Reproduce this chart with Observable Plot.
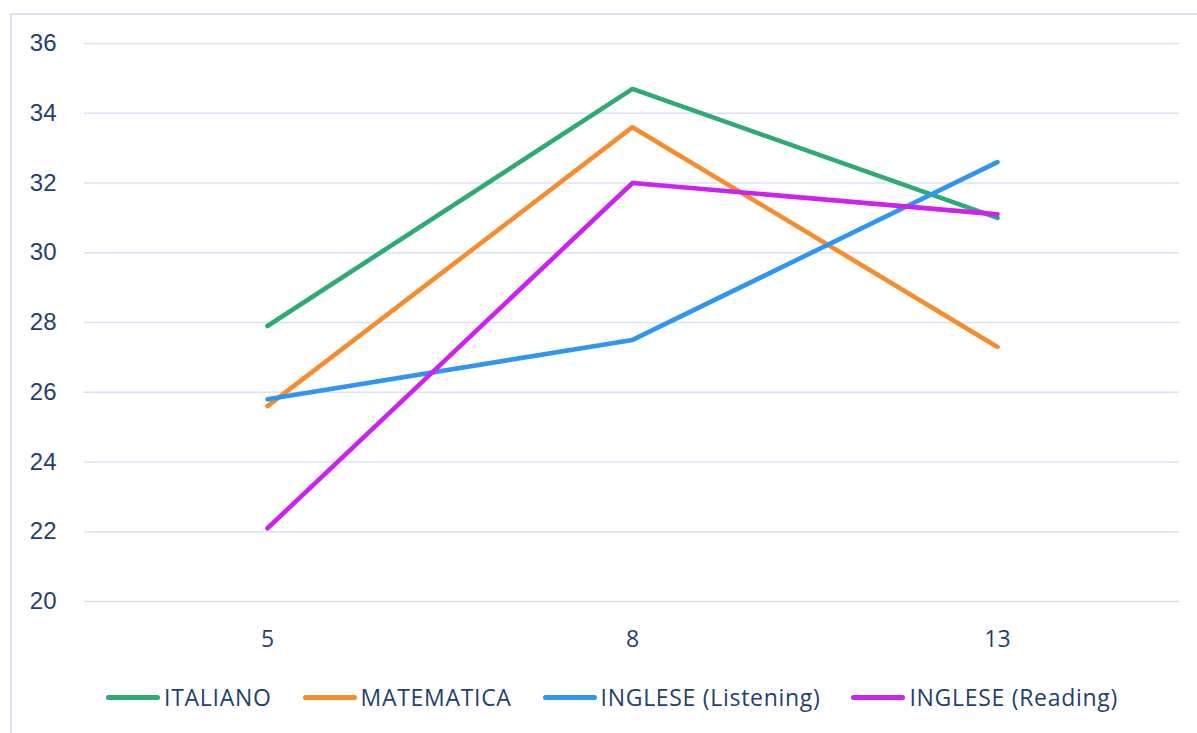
<!DOCTYPE html>
<html>
<head>
<meta charset="utf-8">
<script src="https://cdn.jsdelivr.net/npm/d3@7"></script>
<script src="https://cdn.jsdelivr.net/npm/@observablehq/plot@0.6"></script>
<style>
  html, body { margin: 0; padding: 0; background: #fff; }
  body { width: 1197px; height: 733px; position: relative; overflow: hidden; font-family: "Open Sans", sans-serif; }
  #card { position: absolute; left: 10px; top: 13px; width: 1300px; height: 800px; border: 2px solid #d8e2f4; box-sizing: border-box; }
  #chart { position: absolute; left: 0; top: 0; }
  #legend { position: absolute; left: 0; top: 680px; width: 1224px; display: flex; justify-content: center; gap: 31px; color: #253f6c; font-size: 23px; line-height: 34px; letter-spacing: 0.7px; }
  .item { display: flex; align-items: center; }
  .swatch { width: 54px; height: 5px; border-radius: 3px; margin-right: 4px; }
</style>
</head>
<body>
<div id="card"></div>
<div id="chart"></div>
<div id="legend"></div>
<script>
// Classi (anni di scolarità) e punteggi medi per materia
const grades = ["5", "8", "13"];
const series = ["ITALIANO", "MATEMATICA", "INGLESE (Listening)", "INGLESE (Reading)"];
const colors = ["#2eaa76", "#f68c2c", "#2e96f0", "#cc22f0"];
const italiano = [27.9, 34.7, 31.0];
const matematica = [25.6, 33.6, 27.3];
const listening = [25.8, 27.5, 32.6];
const reading = [22.1, 32.0, 31.1];
const yTicks = [20, 22, 24, 26, 28, 30, 32, 34, 36];

const valuesBySeries = [italiano, matematica, listening, reading];
const data = series.flatMap((s, i) =>
  grades.map((g, j) => ({ series: s, grade: g, value: valuesBySeries[i][j] }))
);

const plot = Plot.plot({
  width: 1197,
  height: 733,
  marginLeft: 84,
  marginRight: 18,
  marginTop: 43,
  marginBottom: 132,
  style: { fontFamily: "'Liberation Sans', Arial, sans-serif", fontSize: "24px", color: "#253f6c", background: "transparent", overflow: "visible" },
  x: { type: "point", domain: grades, padding: 0.5, label: null },
  y: { domain: [20, 36], label: null },
  color: { domain: series, range: colors },
  marks: [
    Plot.gridY(yTicks, { stroke: "#d8e2f4", strokeOpacity: 1, strokeWidth: 1.5 }),
    Plot.axisY(yTicks, { tickSize: 0, tickPadding: 28, label: null, fontSize: 24 }),
    Plot.axisX({ tickSize: 0, tickPadding: 29, label: null, fontSize: 23, fontFamily: "'Open Sans', sans-serif" }),
    Plot.line(data, { x: "grade", y: "value", z: "series", stroke: "series", strokeWidth: 4.6, strokeLinecap: "round", strokeLinejoin: "miter" })
  ]
});
document.getElementById("chart").appendChild(plot);

// Legenda
const legend = d3.select("#legend");
series.forEach((s, i) => {
  const item = legend.append("div").attr("class", "item");
  item.append("div").attr("class", "swatch").style("background", colors[i]);
  item.append("span").text(s);
});
</script>
</body>
</html>
